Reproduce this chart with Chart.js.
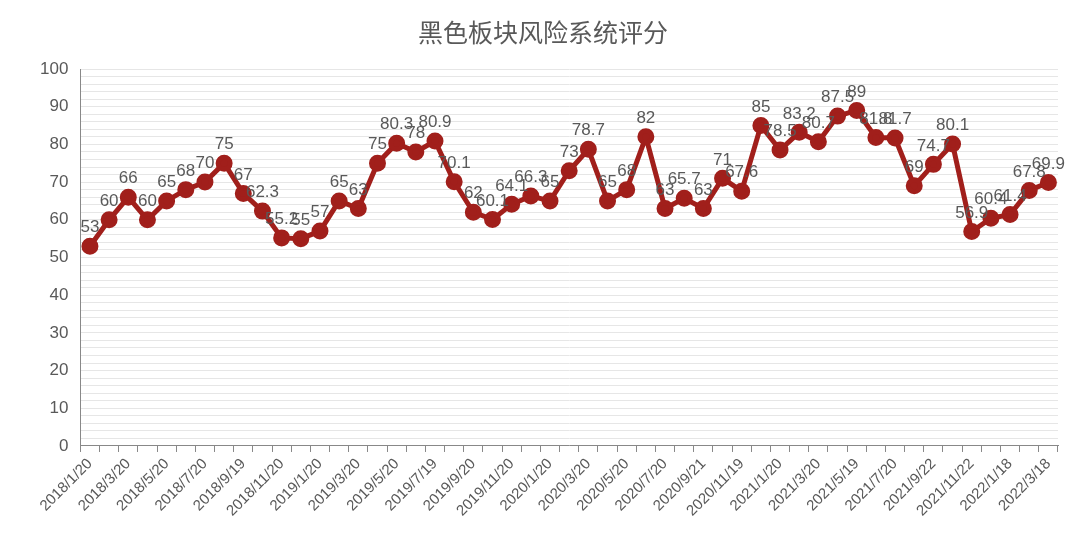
<!DOCTYPE html><html><head><meta charset="utf-8">
<script src="https://cdn.jsdelivr.net/npm/chart.js@4"></script>
<style>html,body{margin:0;background:#fff}#w{width:1080px;height:535px}</style></head><body><div id="w"><canvas id="c"></canvas></div>
<script>
const labelsShown=["2018/1/20","2018/3/20","2018/5/20","2018/7/20","2018/9/19","2018/11/20","2019/1/20","2019/3/20","2019/5/20","2019/7/19","2019/9/20","2019/11/20","2020/1/20","2020/3/20","2020/5/20","2020/7/20","2020/9/21","2020/11/19","2021/1/20","2021/3/20","2021/5/19","2021/7/20","2021/9/22","2021/11/22","2022/1/18","2022/3/18"];
const values=[53,60,66,60,65,68,70,75,67,62.3,55.2,55,57,65,63,75,80.3,78,80.9,70.1,62,60.1,64.1,66.3,65,73,78.7,65,68,82,63,65.7,63,71,67.6,85,78.5,83.2,80.7,87.5,89,81.8,81.7,69,74.7,80.1,56.9,60.4,61.4,67.8,69.9];
const categories=values.map((v,i)=>i%2===0?labelsShown[i/2]:"");
const lbl={id:'lbl',afterDatasetsDraw(ch){const c=ch.ctx;const m=ch.getDatasetMeta(0);c.save();c.font='17px "Liberation Sans", Arial';c.fillStyle='#595959';c.textAlign='center';c.textBaseline='bottom';
m.data.forEach((p,i)=>{c.fillText(String(values[i]),p.x,p.y-10);});c.restore();}};
new Chart(document.getElementById('c'),{type:'line',data:{labels:categories,datasets:[{data:values,borderColor:'#A11F1B',backgroundColor:'#A11F1B',borderWidth:5,pointRadius:6,pointHoverRadius:6,tension:0}]},
options:{responsive:true,maintainAspectRatio:false,animation:false,layout:{padding:{left:28,right:22,top:5,bottom:12}},
plugins:{legend:{display:false},tooltip:{enabled:false},title:{display:true,text:'黑色板块风险系统评分',color:'#595959',font:{size:25,family:'"Noto Sans CJK SC"',weight:'normal'},padding:{top:12,bottom:22}}},
scales:{x:{offset:true,grid:{display:true,drawOnChartArea:false,color:'#888',tickLength:6,offset:true},border:{color:'#888'},ticks:{autoSkip:false,maxRotation:45,minRotation:45,color:'#595959',font:{size:15,family:'"Liberation Sans", Arial'}}},
y:{min:0,max:100,ticks:{stepSize:2,autoSkip:false,padding:12,color:'#595959',font:{size:17,family:'"Liberation Sans", Arial'},callback:v=>v%10===0?v:''},grid:{color:'#e6e6e6',drawTicks:false},border:{display:true,color:'#888'}}}},plugins:[lbl]});
</script></body></html>
